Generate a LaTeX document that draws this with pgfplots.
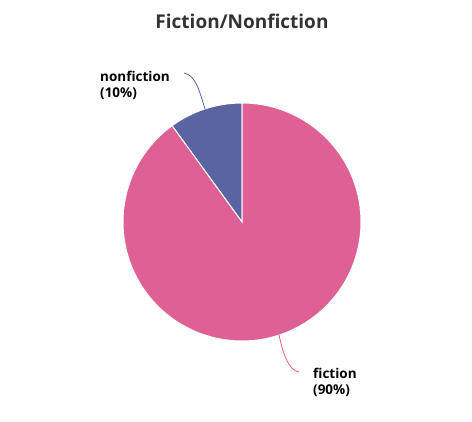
\documentclass[border=0pt]{standalone}
\usepackage{pgfplots}
\pgfplotsset{compat=1.18}
\usepackage{pgfplotstable}
\usepackage{fontspec}
\setmainfont{Open Sans}
\definecolor{fic}{HTML}{DE6094}
\definecolor{nonfic}{HTML}{5A64A0}
\definecolor{ttl}{HTML}{333333}
\pgfplotstableread{
label value
fiction 90
nonfiction 10
}\pietable
\pgfplotstablegetelem{0}{value}\of\pietable \let\vfic\pgfplotsretval
\pgfplotstablegetelem{1}{value}\of\pietable \let\vnon\pgfplotsretval
\begin{document}
\begin{tikzpicture}
\path[use as bounding box] (0,0) rectangle (472pt,422pt);
\begin{axis}[at={(0,0)}, anchor=south west, hide axis, scale only axis,
  width=472pt, height=422pt, xmin=0, xmax=472, ymin=0, ymax=422, clip=false]
\pgfmathsetmacro{\anon}{90+3.6*\vnon}
\pgfmathsetmacro{\afic}{\anon+3.6*\vfic}
% nonfiction wedge
\fill[nonfic, draw=white, line width=1pt] (axis cs:242,200) -- (axis cs:242,319) arc[start angle=90, end angle=\anon, radius=119pt] -- cycle;
% fiction wedge
\fill[fic, draw=white, line width=1pt] (axis cs:242,200) -- (axis cs:{242+119*cos(\anon)},{200+119*sin(\anon)}) arc[start angle=\anon, end angle=\afic, radius=119pt] -- cycle;
% connectors
\draw[nonfic, line width=0.8pt] (axis cs:205,313) .. controls (axis cs:199,333) and (axis cs:195,347) .. (axis cs:184,349);
\draw[fic, line width=0.8pt] (axis cs:279,87) .. controls (axis cs:283,69) and (axis cs:288,52) .. (axis cs:299,50);
\node[text=ttl, font=\fontsize{19}{22}\selectfont\bfseries] at (axis cs:242,401) {Fiction/Nonfiction};
\begin{scope}[every node/.style={font=\fontsize{13.5}{16}\selectfont\bfseries, inner sep=0pt, anchor=base west}]
\node at (axis cs:100,340) {nonfiction};
\node at (axis cs:100,324) {(10\%)};
\node at (axis cs:313,43) {fiction};
\node at (axis cs:313,27) {(90\%)};
\end{scope}
\end{axis}
\end{tikzpicture}
\end{document}
